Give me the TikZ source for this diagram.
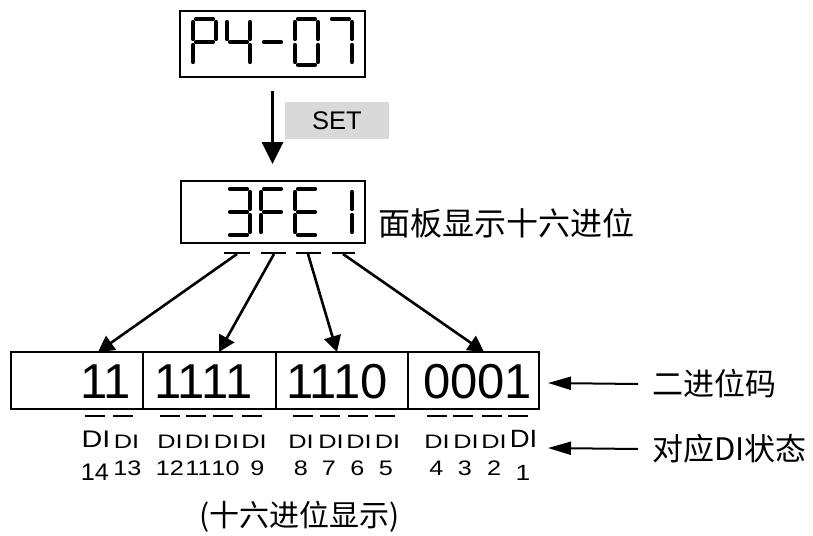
\documentclass[tikz,border=0pt]{standalone}
\usepackage{fontspec}
\usepackage{graphicx}
\setmainfont{Liberation Sans}
\newfontfamily\cjk{Noto Sans CJK SC}
\usetikzlibrary{arrows.meta}
\definecolor{setgray}{RGB}{217,217,217}
\newcommand\fs[1]{\fontsize{#1}{#1}\selectfont}
\newcommand\sevseg[3]{%
  \begin{scope}[shift={(#1,#2)}]
  \foreach \s in {#3}{%
    \ifcase\s\or
      \draw[seg] (5,2)--(22,2);\or
      \draw[seg] (25,5)--(25,22);\or
      \draw[seg] (25,28)--(25,45);\or
      \draw[seg] (5,48)--(22,48);\or
      \draw[seg] (2,28)--(2,45);\or
      \draw[seg] (2,5)--(2,22);\or
      \draw[seg] (5,25)--(22,25);\fi}
  \end{scope}}
\begin{document}
\begin{tikzpicture}[x=1pt,y=-1pt,
  disp/.style={draw, line width=2pt, inner sep=0pt},
  seg/.style={line width=4.2pt, line cap=round},
  bitbox/.style={draw, line width=1.8pt, inner sep=0pt, minimum height=57pt},
  bittext/.style={anchor=base west, inner sep=0pt, font=\fs{49}},
  dashl/.style={line width=1.8pt},
  arr/.style={line width=2.6pt, -{Triangle[length=16pt,width=17pt]}},
  setarr/.style={line width=3pt, -{Triangle[length=22pt,width=21pt]}},
  sidearr/.style={line width=2pt, -{Triangle[length=23pt,width=13pt]}},
  ditext/.style={anchor=base, inner sep=0pt, font=\fs{19.5}},
  numtext/.style={anchor=base, inner sep=0pt, font=\fs{21}},
  cjklab/.style={anchor=west, inner sep=0pt, font=\cjk\fs{31}}]
\useasboundingbox (0,0) rectangle (813,535);

% top display P4-07
\node[disp, minimum width=185pt, minimum height=66pt] (top) at (272.5,44) {};
\sevseg{191}{17}{1,2,6,7,5}
\sevseg{225}{17}{6,7,2,3}
\sevseg{259}{17}{7}
\sevseg{293}{17}{1,2,3,4,5,6}
\sevseg{327}{17}{1,2,3}

% SET
\node[fill=setgray, minimum width=104pt, minimum height=37pt, inner sep=0pt, font=\fs{25.5}] (set) at (337,120.5) {SET};

% hex display 3FE1
\node[disp, minimum width=184pt, minimum height=62pt] (hex) at (272.5,212) {};
\sevseg{225}{187}{1,2,7,3,4}
\sevseg{259}{187}{1,6,7,5}
\sevseg{293}{187}{1,6,7,5,4}
\sevseg{327}{187}{2,3}
\node[anchor=west, inner sep=0pt, font=\cjk\fs{32}] (hexlab) at (378,223) {面板显示十六进位};

\draw[setarr] ([yshift=-13pt]top.south) -- ([yshift=16pt]hex.north);

% dashes under hex digits
\draw[dashl] (224,253) -- (250,253);
\draw[dashl] (261,253) -- (286,253);
\draw[dashl] (296,253) -- (321,253);
\draw[dashl] (332,253) -- (355,253);

% bit boxes
\node[bitbox, minimum width=132pt] (b1) at (77,380.5) {};
\node[bitbox, minimum width=133pt] (b2) at (209.5,380.5) {};
\node[bitbox, minimum width=132pt] (b3) at (342,380.5) {};
\node[bitbox, minimum width=131pt] (b4) at (473.5,380.5) {};
\node[bittext] (t1) at (80,398) {11};
\node[bittext] (t2) at (154,398) {1111};
\node[bittext] (t3) at (286,398) {1110};
\node[bittext] (t4) at (423,398) {0001};

% arrows hex -> bits
\coordinate (h1) at (237,254);
\coordinate (h2) at (274,254);
\coordinate (h3) at (308,254);
\coordinate (h4) at (343,254);
\coordinate (e1) at (98,352);
\coordinate (e2) at (219,352);
\coordinate (e3) at (337,352);
\coordinate (e4) at (484,352);
\draw[arr] (h1) -- (e1);
\draw[arr] (h2) -- (e2);
\draw[arr] (h3) -- (e3);
\draw[arr] (h4) -- (e4);

% dashes under bits
\foreach \c in {95,123,170,196,223,252,303,330,358,385,437,463,492,518}
  \draw[dashl] (\c-10,416) -- (\c+10,416);

% DI labels
\node[ditext, font=\fs{24}] (di14) at (96,447) {\scalebox{1.2}[1]{DI}};
\node[ditext] (di13) at (126.5,448) {\scalebox{1.3}[1]{DI}};
\node[ditext] (di12) at (170,448) {\scalebox{1.3}[1]{DI}};
\node[ditext] (di11) at (197.5,448) {\scalebox{1.3}[1]{DI}};
\node[ditext] (di10) at (226.5,448) {\scalebox{1.3}[1]{DI}};
\node[ditext] (di9) at (254,448) {\scalebox{1.3}[1]{DI}};
\node[ditext] (di8) at (301,448) {\scalebox{1.3}[1]{DI}};
\node[ditext] (di7) at (331,448) {\scalebox{1.3}[1]{DI}};
\node[ditext] (di6) at (359,448) {\scalebox{1.3}[1]{DI}};
\node[ditext] (di5) at (387.5,448) {\scalebox{1.3}[1]{DI}};
\node[ditext] (di4) at (437,448) {\scalebox{1.3}[1]{DI}};
\node[ditext] (di3) at (466,448) {\scalebox{1.3}[1]{DI}};
\node[ditext] (di2) at (494,448) {\scalebox{1.3}[1]{DI}};
\node[ditext, font=\fs{25}] (di1) at (523.5,447) {\scalebox{1.1}[1]{DI}};

\node[numtext, font=\fs{24}] (n14) at (95,480) {\scalebox{1.05}[1]{14}};
\node[numtext] (n13) at (127.5,475) {\scalebox{1.2}[1]{13}};
\node[numtext] (n12) at (170,475) {\scalebox{1.2}[1]{12}};
\node[numtext] (n11) at (198.5,475) {\scalebox{1.2}[1]{11}};
\node[numtext] (n10) at (225.5,475) {\scalebox{1.2}[1]{10}};
\node[numtext] (n9) at (257.5,475) {\scalebox{1.2}[1]{9}};
\node[numtext] (n8) at (301,475) {\scalebox{1.2}[1]{8}};
\node[numtext] (n7) at (329,475) {\scalebox{1.2}[1]{7}};
\node[numtext] (n6) at (357.5,475) {\scalebox{1.2}[1]{6}};
\node[numtext] (n5) at (386,475) {\scalebox{1.2}[1]{5}};
\node[numtext] (n4) at (436.5,475) {\scalebox{1.2}[1]{4}};
\node[numtext] (n3) at (465,475) {\scalebox{1.2}[1]{3}};
\node[numtext] (n2) at (494,475) {\scalebox{1.2}[1]{2}};
\node[numtext, font=\fs{22}] (n1) at (523,480) {\scalebox{1.2}[1]{1}};

% right labels
\node[cjklab] (lab1) at (652,384) {二进位码};
\node[cjklab] (lab2) at (652,449) {对应DI状态};
\coordinate (r1) at (548,383);
\coordinate (r2) at (548,448);
\draw[sidearr] ([xshift=-14pt]lab1.west) -- (r1);
\draw[sidearr] ([xshift=-14pt]lab2.west) -- (r2);

% caption
\node[inner sep=0pt, font=\cjk\fs{30}] (cap) at (299.5,517) {(十六进位显示)};
\end{tikzpicture}
\end{document}
